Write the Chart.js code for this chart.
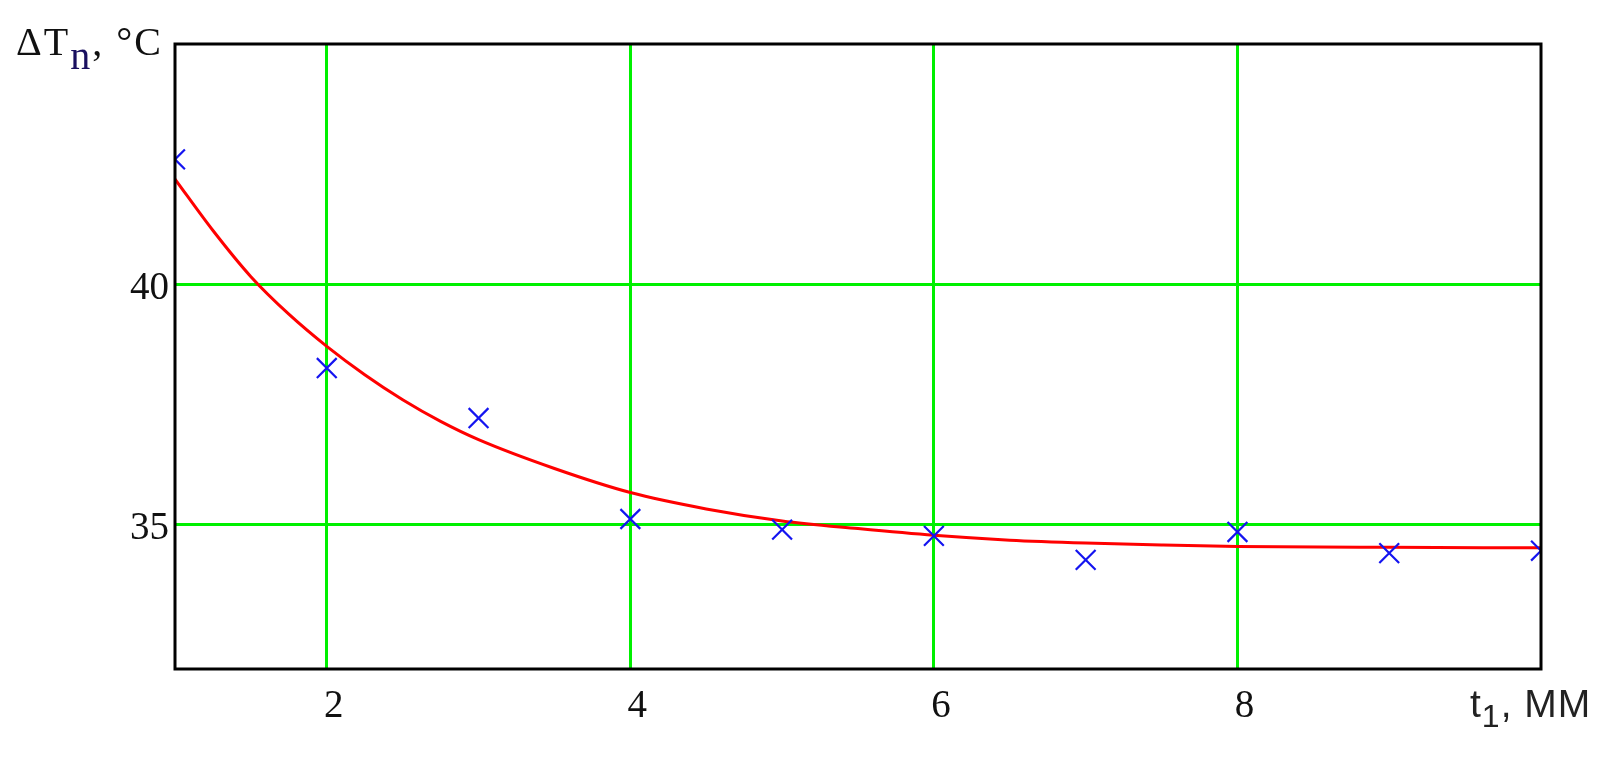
<!DOCTYPE html>
<html>
<head>
<meta charset="utf-8">
<script src="https://cdn.jsdelivr.net/npm/chart.js@4/dist/chart.umd.min.js"></script>
<style>
  body { margin: 0; background: #fff; }
  #wrap { position: relative; width: 1616px; height: 760px; }
  #yTitle {
    position: absolute; left: 16px; top: 22px;
    font: 40px "Liberation Serif", serif; line-height: 40px;
    letter-spacing: 2px; color: #111; white-space: nowrap;
  }
  #yTitle .sub { position: relative; top: 14px; color: #1a1060; }
  #xTitle {
    position: absolute; left: 1470px; top: 684px;
    font: 39px "Liberation Sans", sans-serif; line-height: 40px;
    letter-spacing: 1px; color: #222; white-space: nowrap;
  }
  #xTitle .sub { position: relative; top: 10px; font-size: 32px; }
</style>
</head>
<body>
<div id="wrap">
  <canvas id="chart" width="1616" height="760"></canvas>
  <div id="yTitle">&Delta;T<span class="sub">n</span>, &deg;C</div>
  <div id="xTitle">t<span class="sub">1</span>, MM</div>
</div>
<script>
// measured points, t1 in mm
const tMeasured = [1, 2, 3, 4, 5, 6, 7, 8, 9, 10];
const dtMeasured = [42.60, 38.26, 37.22, 35.12, 34.90, 34.77, 34.27, 34.85, 34.41, 34.46];

// fitted curve
const tFit = [1, 1.25, 1.5, 1.75, 2, 2.25, 2.5, 2.75, 3, 3.5, 4, 4.5, 5, 5.5, 6, 6.5, 7, 7.5, 8, 9, 10];
const dtFit = [42.19, 41.12, 40.16, 39.38, 38.71, 38.12, 37.60, 37.15, 36.77, 36.17, 35.67, 35.33, 35.08, 34.92, 34.78, 34.68, 34.62, 34.58, 34.55, 34.53, 34.52];

// tick labels
const xTicks = [2, 4, 6, 8];
const yTicks = [35, 40];

// black frame around the plot area
const frame = {
    id: 'frame',
    afterDraw(chart) {
        const a = chart.chartArea;
        const ctx = chart.ctx;
        ctx.save();
        ctx.strokeStyle = '#000';
        ctx.lineWidth = 3;
        ctx.strokeRect(a.left, a.top, a.right - a.left, a.bottom - a.top);
        ctx.restore();
    }
};

const ctx = document.getElementById('chart').getContext('2d');
new Chart(ctx, {
    type: 'scatter',
    data: {
        datasets: [
            {
                label: 'measured',
                data: tMeasured.map((t, i) => ({ x: t, y: dtMeasured[i] })),
                showLine: false,
                pointStyle: 'crossRot',
                pointRadius: 14,
                pointBorderWidth: 2.2,
                borderColor: '#1414f0',
                backgroundColor: '#1414f0',
                clip: 0
            },
            {
                label: 'fit',
                data: tFit.map((t, i) => ({ x: t, y: dtFit[i] })),
                showLine: true,
                borderColor: '#ff0000',
                borderWidth: 3,
                pointRadius: 0,
                cubicInterpolationMode: 'monotone',
                clip: 0
            }
        ]
    },
    options: {
        responsive: false,
        devicePixelRatio: 1,
        animation: false,
        layout: { padding: { left: 0, top: 44, right: 75, bottom: 0 } },
        plugins: { legend: { display: false }, tooltip: { enabled: false } },
        scales: {
            x: {
                type: 'linear',
                min: 1,
                max: 10,
                afterBuildTicks: s => { s.ticks = xTicks.map(v => ({ value: v })); },
                afterFit: s => { s.height = 760 - 669; },
                grid: { color: '#00f000', lineWidth: 3, drawTicks: false },
                border: { display: false },
                ticks: {
                    color: '#111',
                    padding: 14,
                    labelOffset: 7,
                    maxRotation: 0,
                    font: { family: 'Liberation Serif', size: 39 }
                }
            },
            y: {
                min: 32,
                max: 45,
                afterBuildTicks: s => { s.ticks = yTicks.map(v => ({ value: v })); },
                afterFit: s => { s.width = 175; },
                grid: { color: '#00f000', lineWidth: 3, drawTicks: false },
                border: { display: false },
                ticks: {
                    color: '#111',
                    padding: 6,
                    labelOffset: 4,
                    font: { family: 'Liberation Serif', size: 39 }
                }
            }
        }
    },
    plugins: [frame]
});
</script>
</body>
</html>
